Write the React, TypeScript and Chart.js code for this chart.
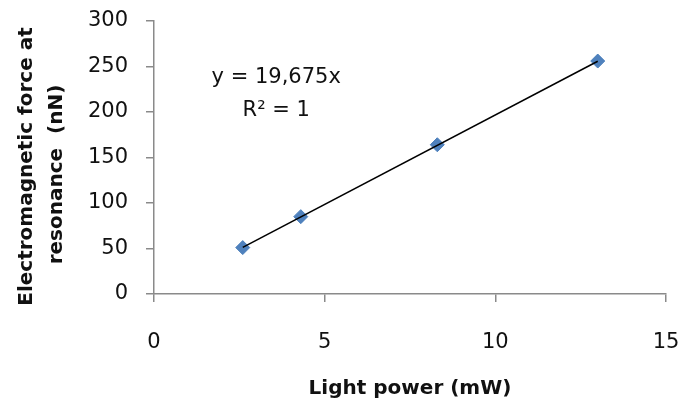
import React, { useEffect, useRef } from "react";
import { Chart, registerables } from "chart.js";

Chart.register(...registerables);

// Measured data
const lightPower = [2.6, 4.3, 8.3, 13.0]; // mW
const emForce = [51, 85, 164, 256]; // nN

// Linear trendline (y = 19,675x) endpoints over data range
const trendX = [2.6, 13.0];
const trendY = [51.2, 255.8];

const xTicks = [0, 5, 10, 15];
const yTicks = [0, 50, 100, 150, 200, 250, 300];

const equationLines = ["y = 19,675x", "R² = 1"];
const xTitle = "Light power (mW)";
const yTitle = ["Electromagnetic force at", "resonance  (nN)"];

const FONT = "'DejaVu Sans', sans-serif";
const AXIS_COLOR = "#8a8a8a";
const TEXT_COLOR = "#111111";

const equationPlugin = {
  id: "equationLabel",
  afterDatasetsDraw(chart: any) {
    const { ctx, scales } = chart;
    const x = scales.x.getPixelForValue(3.58);
    const y1 = scales.y.getPixelForValue(232);
    const y2 = scales.y.getPixelForValue(195.5);
    ctx.save();
    ctx.font = `21px ${FONT}`;
    ctx.fillStyle = TEXT_COLOR;
    ctx.textAlign = "center";
    ctx.textBaseline = "alphabetic";
    ctx.fillText(equationLines[0], x, y1);
    ctx.fillText(equationLines[1], x, y2);
    ctx.restore();
  },
};

// Draws the two-line rotated y-axis title, shifted slightly below the plot centre
const yTitlePlugin = {
  id: "yTitleLabel",
  afterDraw(chart: any) {
    const { ctx, chartArea } = chart;
    const cy = (chartArea.top + chartArea.bottom) / 2;
    ctx.save();
    ctx.font = `bold 20px ${FONT}`;
    ctx.fillStyle = TEXT_COLOR;
    ctx.textAlign = "center";
    ctx.textBaseline = "middle";
    ctx.translate(27, cy + 9);
    ctx.rotate(-Math.PI / 2);
    ctx.fillText(yTitle[0], 0, 0);
    ctx.restore();
    ctx.save();
    ctx.font = `bold 20px ${FONT}`;
    ctx.fillStyle = TEXT_COLOR;
    ctx.textAlign = "center";
    ctx.textBaseline = "middle";
    ctx.translate(57, cy + 17);
    ctx.rotate(-Math.PI / 2);
    ctx.fillText(yTitle[1], 0, 0);
    ctx.restore();
  },
};

export default function App() {
  const canvasRef = useRef<HTMLCanvasElement | null>(null);

  useEffect(() => {
    document.body.style.margin = "0";
    const canvas = canvasRef.current;
    if (!canvas) return;
    const chart = new Chart(canvas, {
      type: "scatter",
      data: {
        datasets: [
          {
            label: "Trend",
            type: "line",
            data: trendX.map((x, i) => ({ x, y: trendY[i] })),
            borderColor: "#000000",
            borderWidth: 1.5,
            pointRadius: 0,
            fill: false,
            order: 0,
          },
          {
            label: "Force",
            data: lightPower.map((x, i) => ({ x, y: emForce[i] })),
            pointStyle: "rectRot",
            pointRadius: 7,
            backgroundColor: "#4f81bd",
            borderColor: "#4a7ebb",
            borderWidth: 1,
            order: 1,
          },
        ],
      },
      options: {
        responsive: false,
        animation: false,
        layout: { padding: { left: 0, top: 21, right: 15, bottom: 0 } },
        plugins: {
          legend: { display: false },
          tooltip: { enabled: false },
        },
        scales: {
          x: {
            type: "linear",
            min: 0,
            max: 15,
            afterBuildTicks: (axis: any) => {
              axis.ticks = xTicks.map((v) => ({ value: v }));
            },
            afterFit: (axis: any) => {
              axis.height = 108;
              axis.paddingLeft = 0;
              axis.paddingRight = 0;
              axis.paddingTop = 0;
              axis.paddingBottom = 0;
            },
            grid: {
              drawOnChartArea: false,
              drawTicks: true,
              tickLength: 8,
              color: AXIS_COLOR,
              lineWidth: 1.5,
            },
            border: { color: AXIS_COLOR, width: 1.5 },
            ticks: {
              padding: 28,
              color: TEXT_COLOR,
              font: { family: FONT, size: 21 },
              maxRotation: 0,
            },
            title: {
              display: true,
              text: xTitle,
              color: TEXT_COLOR,
              font: { family: FONT, size: 20, weight: "bold", lineHeight: 1.2 },
              padding: { top: 22, bottom: 1 },
            },
          },
          y: {
            type: "linear",
            min: 0,
            max: 300,
            afterBuildTicks: (axis: any) => {
              axis.ticks = yTicks.map((v) => ({ value: v }));
            },
            afterFit: (axis: any) => {
              axis.width = 154;
              axis.paddingLeft = 0;
              axis.paddingRight = 0;
              axis.paddingTop = 0;
              axis.paddingBottom = 0;
            },
            grid: {
              drawOnChartArea: false,
              drawTicks: true,
              tickLength: 8,
              color: AXIS_COLOR,
              lineWidth: 1.5,
            },
            border: { color: AXIS_COLOR, width: 1.5 },
            ticks: {
              padding: 18,
              color: TEXT_COLOR,
              font: { family: FONT, size: 21 },
            },
            title: { display: false },
          },
        },
      },
      plugins: [equationPlugin, yTitlePlugin],
    });
    return () => chart.destroy();
  }, []);

  return (
    <div style={{ width: 681, height: 402, background: "#ffffff" }}>
      <canvas ref={canvasRef} width={681} height={402} />
    </div>
  );
}
